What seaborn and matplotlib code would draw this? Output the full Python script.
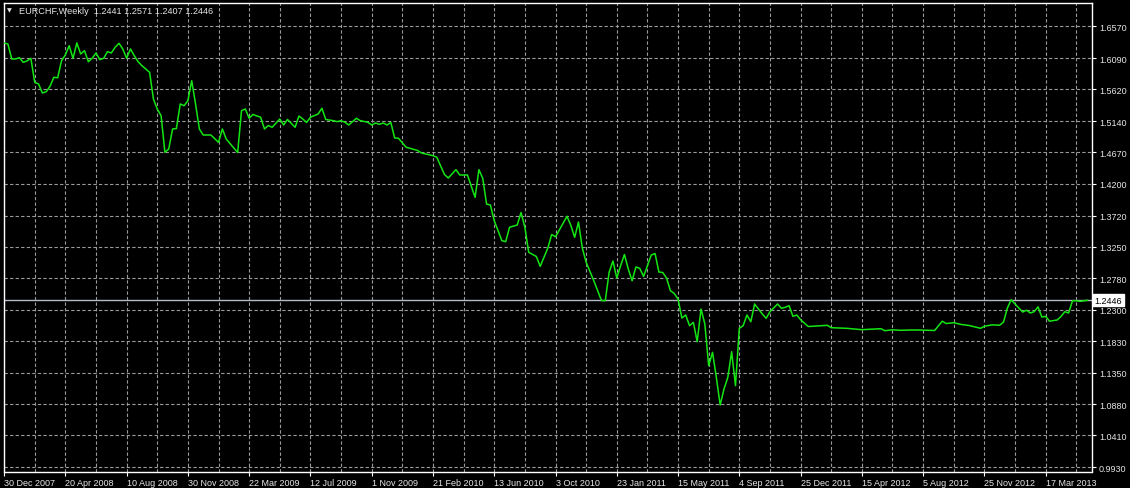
import matplotlib
matplotlib.use("Agg")
import matplotlib.pyplot as plt
import matplotlib.transforms as mtransforms
import seaborn as sns
import pandas as pd

# weekly closes (bar number counted from the 30 Dec 2007 bar)
bar_no = [
    0, 1, 2, 3, 4, 5, 6, 7, 8, 9, 10, 11, 12, 13, 14, 15, 16, 17, 18, 19,
    20, 21, 22, 23, 24, 25, 26, 27, 28, 29, 30, 31, 32, 33, 34, 35, 36, 38, 39, 40,
    41, 42, 43, 44, 45, 46, 47, 48, 49, 50, 51, 52, 53, 54, 56, 57, 58, 61, 62, 63,
    64, 65, 67, 68, 69, 70, 72, 73, 74, 76, 77, 78, 79, 80, 82, 83, 84, 86, 87, 88,
    89, 90, 92, 93, 95, 96, 97, 98, 99, 100, 101, 102, 103, 105, 106, 108, 109, 112, 113, 115,
    116, 118, 119, 121, 123, 124, 125, 126, 127, 128, 130, 131, 132, 134, 135, 136, 137, 139, 140, 142,
    143, 144, 147, 148, 149, 150, 151, 152, 154, 156, 157, 158, 159, 160, 161, 162, 163, 164, 165, 166,
    167, 169, 170, 171, 172, 173, 174, 175, 176, 177, 178, 179, 180, 181, 182, 183, 184, 185, 186, 187,
    188, 189, 190, 191, 192, 193, 194, 195, 196, 198, 199, 200, 202, 203, 204, 205, 206, 207, 208, 210,
    211, 215, 216, 220, 224, 229, 230, 232, 234, 237, 239, 243, 245, 246, 248, 250, 252, 255, 256, 258,
    260, 261, 262, 263, 264, 266, 267, 268, 269, 270, 271, 272, 273, 275, 276, 277, 278, 279, 280, 281,
    283,
]
close = [
    1.6319, 1.6303, 1.6078, 1.6078, 1.6097, 1.6028, 1.6048, 1.6088, 1.5727, 1.5701,
    1.5566, 1.5585, 1.5667, 1.5802, 1.5795, 1.6052, 1.6138, 1.6278, 1.6088, 1.6319,
    1.6153, 1.6203, 1.6037, 1.6088, 1.6168, 1.6067, 1.6088, 1.6188, 1.6168, 1.6254,
    1.6314, 1.6228, 1.6088, 1.6228, 1.6127, 1.6037, 1.5977, 1.5877, 1.5475, 1.5325,
    1.5224, 1.4673, 1.4722, 1.5024, 1.5030, 1.5400, 1.5374, 1.5450, 1.5751, 1.5400,
    1.5024, 1.4933, 1.4933, 1.4933, 1.4823, 1.5024, 1.4873, 1.4670, 1.5299, 1.5325,
    1.5185, 1.5242, 1.5200, 1.5024, 1.5076, 1.5049, 1.5174, 1.5084, 1.5167, 1.5049,
    1.5219, 1.5174, 1.5122, 1.5200, 1.5249, 1.5335, 1.5167, 1.5149, 1.5134, 1.5149,
    1.5125, 1.5084, 1.5185, 1.5149, 1.5125, 1.5084, 1.5114, 1.5094, 1.5114, 1.5084,
    1.5122, 1.4888, 1.4884, 1.4748, 1.4733, 1.4700, 1.4662, 1.4622, 1.4598, 1.4339,
    1.4286, 1.4411, 1.4331, 1.4331, 1.3995, 1.4411, 1.4281, 1.3894, 1.3879, 1.3643,
    1.3342, 1.3327, 1.3544, 1.3578, 1.3766, 1.3544, 1.3167, 1.3104, 1.2956, 1.3232,
    1.3435, 1.3400, 1.3709, 1.3574, 1.3393, 1.3623, 1.3232, 1.3017, 1.2739, 1.2441,
    1.2438, 1.2866, 1.3036, 1.2780, 1.2965, 1.3134, 1.2916, 1.2739, 1.2946, 1.2926,
    1.2803, 1.3126, 1.3149, 1.2870, 1.2863, 1.2780, 1.2589, 1.2547, 1.2464, 1.2178,
    1.2223, 1.2062, 1.2113, 1.1821, 1.2313, 1.2087, 1.1460, 1.1661, 1.1285, 1.0868,
    1.1109, 1.1285, 1.1670, 1.1159, 1.2023, 1.2062, 1.2223, 1.2122, 1.2389, 1.2238,
    1.2173, 1.2273, 1.2389, 1.2324, 1.2339, 1.2363, 1.2203, 1.2223, 1.2152, 1.2050,
    1.2053, 1.2068, 1.2032, 1.2023, 1.2002, 1.2017, 1.1987, 1.2000, 1.1993, 1.1997,
    1.1997, 1.1990, 1.2130, 1.2095, 1.2107, 1.2080, 1.2065, 1.2023, 1.2053, 1.2075,
    1.2069, 1.2118, 1.2328, 1.2453, 1.2389, 1.2268, 1.2295, 1.2253, 1.2273, 1.2346,
    1.2193, 1.2203, 1.2130, 1.2148, 1.2200, 1.2273, 1.2253, 1.2438, 1.2438, 1.2429,
    1.2446,
]

date_labels = [
    "30 Dec 2007", "20 Apr 2008", "10 Aug 2008", "30 Nov 2008", "22 Mar 2009",
    "12 Jul 2009", "1 Nov 2009", "21 Feb 2010", "13 Jun 2010", "3 Oct 2010",
    "23 Jan 2011", "15 May 2011", "4 Sep 2011", "25 Dec 2011", "15 Apr 2012",
    "5 Aug 2012", "25 Nov 2012", "17 Mar 2013",
]
price_ticks = [1.6570, 1.6090, 1.5620, 1.5140, 1.4670, 1.4200, 1.3720, 1.3250,
               1.2780, 1.2300, 1.1830, 1.1350, 1.0880, 1.0410, 0.9930]

symbol = "EURCHF,Weekly"
ohlc = [1.2441, 1.2571, 1.2407, 1.2446]
last_price = 1.2446

df = pd.DataFrame({"bar": bar_no, "close": close})

sns.set_theme(style="dark")
plt.rcParams["font.family"] = ["Liberation Sans", "DejaVu Sans"]

fig = plt.figure(figsize=(11.3, 4.89), dpi=100, facecolor="black")
ax = fig.add_axes([3.5 / 1130, 16.5 / 489, 1088.5 / 1130, 469 / 489])
ax.set_facecolor("black")

grid_kw = dict(color="#9a9a9a", linewidth=0.8, linestyle=(0, (3, 2)))
for p in price_ticks:
    ax.axhline(p, zorder=1, **grid_kw)
for b in range(0, 285, 8):
    ax.axvline(b, zorder=1, **grid_kw)

ax.axhline(last_price, color="#b4bcc8", linewidth=1.0, zorder=2)

sns.lineplot(data=df, x="bar", y="close", color="#14e614", linewidth=1.1,
             ax=ax, zorder=3)

ax.set_xlim(-0.15, 284.1)
ax.set_ylim(0.9867, 1.6928)
ax.set_xlabel("")
ax.set_ylabel("")

ax.set_xticks(range(0, 16 * len(date_labels), 16))
ax.set_xticklabels(date_labels, ha="left")
ax.set_yticks(price_ticks)
ax.set_yticklabels([f"{p:.4f}" for p in price_ticks])

ax.tick_params(axis="x", colors="white", direction="out", length=3, width=0.8,
               pad=2, labelsize=6.5, bottom=True)
ax.tick_params(axis="y", colors="white", direction="out", length=3, width=0.8,
               pad=2, labelsize=6.5, left=False, right=True,
               labelleft=False, labelright=True)
for lab in ax.get_xticklabels() + ax.get_yticklabels():
    lab.set_color("#e6e6e6")

for s in ax.spines.values():
    s.set_visible(True)
    s.set_color("white")
    s.set_linewidth(1.0)

trans = mtransforms.blended_transform_factory(ax.transAxes, ax.transData)
ax.text(1.0025, last_price, f"{last_price:.4f}", transform=trans, ha="left",
        va="center", fontsize=6.5, color="black", zorder=5,
        bbox=dict(facecolor="white", edgecolor="white", pad=1.2))

fig.text(7 / 1130, 1 - 11 / 489, "\u25bc", color="#e6e6e6", fontsize=4.5,
         va="center", ha="left", family=["DejaVu Sans"])
fig.text(19 / 1130, 1 - 11 / 489,
         symbol + "  " + " ".join(f"{v:.4f}" for v in ohlc),
         color="#e6e6e6", fontsize=6.6, va="center", ha="left")

fig.savefig("out.png", dpi=100, facecolor="black")
